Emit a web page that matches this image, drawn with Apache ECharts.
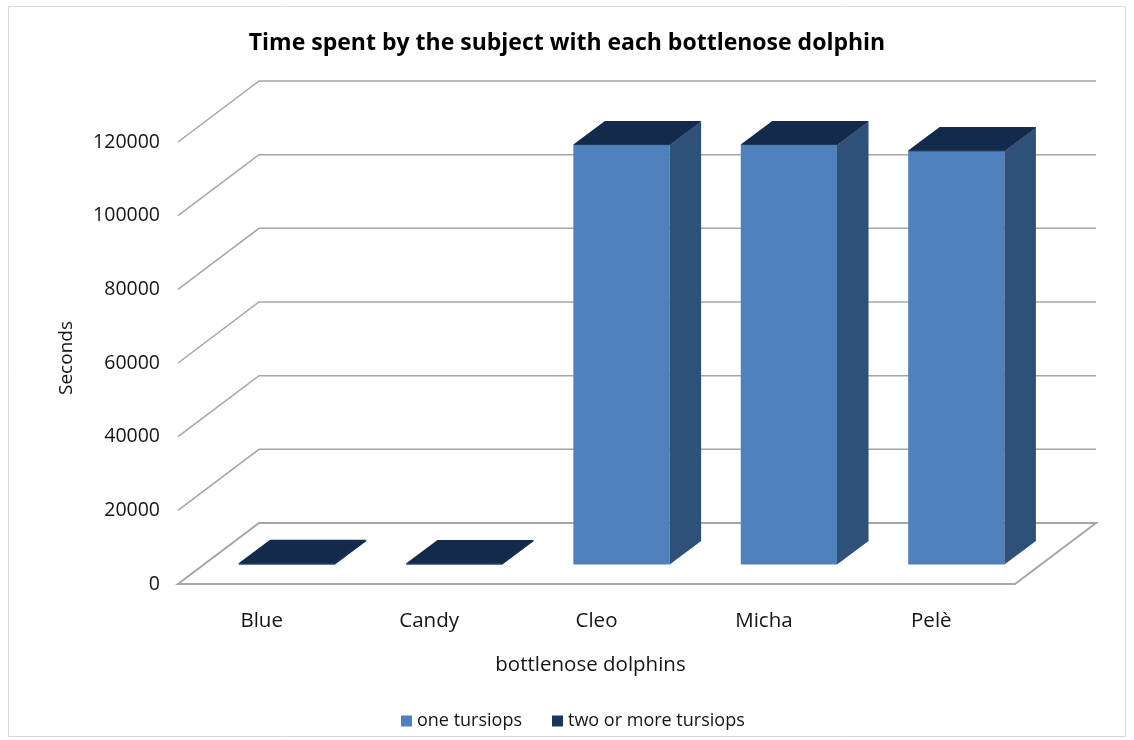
<!DOCTYPE html>
<html>
<head>
<meta charset="utf-8">
<title>Time spent by the subject with each bottlenose dolphin</title>
<script src="https://cdn.jsdelivr.net/npm/echarts@6/dist/echarts.min.js"></script>
<style>
  html, body { margin: 0; padding: 0; background: #ffffff; }
  #chart { width: 1134px; height: 740px; }
</style>
</head>
<body>
<div id="chart"></div>
<script>
// Dolphins and seconds spent with each one
const dolphins = ['Blue', 'Candy', 'Cleo', 'Micha', 'Pelè'];
const oneTursiops = [0, 0, 113800, 113800, 112100];
const twoOrMoreTursiops = [350, 300, 250, 250, 300];
const yTicks = [0, 20000, 40000, 60000, 80000, 100000, 120000];

// Oblique projection used for the pseudo-3D look
const DEPTH = [81, -61];        // floor depth offset (front edge -> back wall)
const BAR_FRONT = [25, -19.5];  // bar front face offset inside the floor
const BAR_BACK = [56.5, -43];   // bar back face offset inside the floor
const BAR_WIDTH = 0.575;        // share of a category band

const FONT = '"Open Sans", "Noto Sans", sans-serif';
const INK = '#141414';

const chart = echarts.init(document.getElementById('chart'), null, { renderer: 'canvas' });

// Floor plus side-wall / back-wall gridlines for each tick value
function wallsItem(params, api) {
  const cs = params.coordSys;
  const v = api.value(1);
  const y = api.coord([0, v])[1];
  const L = cs.x, R = cs.x + cs.width;
  if (v === 0) {
    return {
      type: 'polygon',
      shape: { points: [[L, y], [R, y], [R + DEPTH[0], y + DEPTH[1]], [L + DEPTH[0], y + DEPTH[1]]] },
      style: { fill: '#ffffff', stroke: '#A6A6A6', lineWidth: 2 }
    };
  }
  return {
    type: 'polyline',
    shape: { points: [[L, y], [L + DEPTH[0], y + DEPTH[1]], [R + DEPTH[0], y + DEPTH[1]]] },
    style: { stroke: '#A6A6A6', lineWidth: 1.5, fill: null }
  };
}

// Box with front, right side and top faces
function boxRenderer(front, side, top) {
  return function (params, api) {
    const i = api.value(0);
    const base = api.coord([i, api.value(1)]);
    const peak = api.coord([i, api.value(2)]);
    const hw = api.size([1, 0])[0] * BAR_WIDTH / 2;
    const x0 = base[0] - hw + BAR_FRONT[0];
    const x1 = base[0] + hw + BAR_FRONT[0];
    const yb = base[1] + BAR_FRONT[1];
    const yt = peak[1] + BAR_FRONT[1];
    const dx = BAR_BACK[0] - BAR_FRONT[0];
    const dy = BAR_BACK[1] - BAR_FRONT[1];
    return {
      type: 'group',
      children: [
        { type: 'polygon', shape: { points: [[x0, yb], [x1, yb], [x1, yt], [x0, yt]] },
          style: { fill: front } },
        { type: 'polygon', shape: { points: [[x1, yb], [x1 + dx, yb + dy], [x1 + dx, yt + dy], [x1, yt]] },
          style: { fill: side } },
        { type: 'polygon', shape: { points: [[x0, yt], [x1, yt], [x1 + dx, yt + dy], [x0 + dx, yt + dy]] },
          style: { fill: top } }
      ]
    };
  };
}

const option = {
  backgroundColor: '#ffffff',
  animation: false,
  title: {
    text: 'Time spent by the subject with each bottlenose dolphin',
    left: 'center',
    top: 27,
    textStyle: { fontFamily: FONT, fontSize: 23, fontWeight: 'bold', color: '#000000' }
  },
  legend: {
    left: 396,
    top: 707,
    icon: 'rect',
    itemWidth: 11,
    itemHeight: 11,
    itemGap: 30,
    data: ['one tursiops', 'two or more tursiops'],
    textStyle: { fontFamily: FONT, fontSize: 18, color: INK }
  },
  grid: { left: 178, right: 119, top: 142, bottom: 156 },
  xAxis: {
    type: 'category',
    data: dolphins,
    name: 'bottlenose dolphins',
    nameLocation: 'middle',
    nameGap: 71,
    nameTextStyle: { fontFamily: FONT, fontSize: 20.5, color: INK, padding: [0, 12, 0, 0] },
    axisLine: { show: false },
    axisTick: { show: false },
    axisLabel: { margin: 27, fontFamily: FONT, fontSize: 20.5, color: INK }
  },
  yAxis: {
    type: 'value',
    min: 0,
    max: 120000,
    interval: 20000,
    name: 'Seconds',
    nameLocation: 'middle',
    nameRotate: 90,
    nameGap: 102,
    nameTextStyle: { fontFamily: FONT, fontSize: 19, color: INK, padding: [0, 0, 0, 10] },
    axisLine: { show: false },
    axisTick: { show: false },
    splitLine: { show: false },
    axisLabel: { margin: 18, fontFamily: FONT, fontSize: 19.5, color: INK, formatter: v => String(v) }
  },
  series: [
    {
      name: 'walls',
      type: 'custom',
      silent: true,
      z: 1,
      renderItem: wallsItem,
      data: yTicks.map(v => [0, v])
    },
    {
      name: 'one tursiops',
      type: 'custom',
      z: 3,
      itemStyle: { color: '#4F81BD' },
      renderItem: boxRenderer('#4F81BD', '#2F5079', '#3B679E'),
      data: oneTursiops.map((v, i) => [i, 0, v])
    },
    {
      name: 'two or more tursiops',
      type: 'custom',
      z: 4,
      itemStyle: { color: '#17375E' },
      renderItem: boxRenderer('#17375E', '#10284A', '#132A4A'),
      data: twoOrMoreTursiops.map((v, i) => [i, oneTursiops[i], oneTursiops[i] + v])
    }
  ],
  graphic: [
    {
      type: 'rect',
      silent: true,
      z: -1,
      shape: { x: 8.5, y: 6.5, width: 1117, height: 730 },
      style: { fill: null, stroke: '#D9D9D9', lineWidth: 1 }
    }
  ]
};

chart.setOption(option);
</script>
</body>
</html>
